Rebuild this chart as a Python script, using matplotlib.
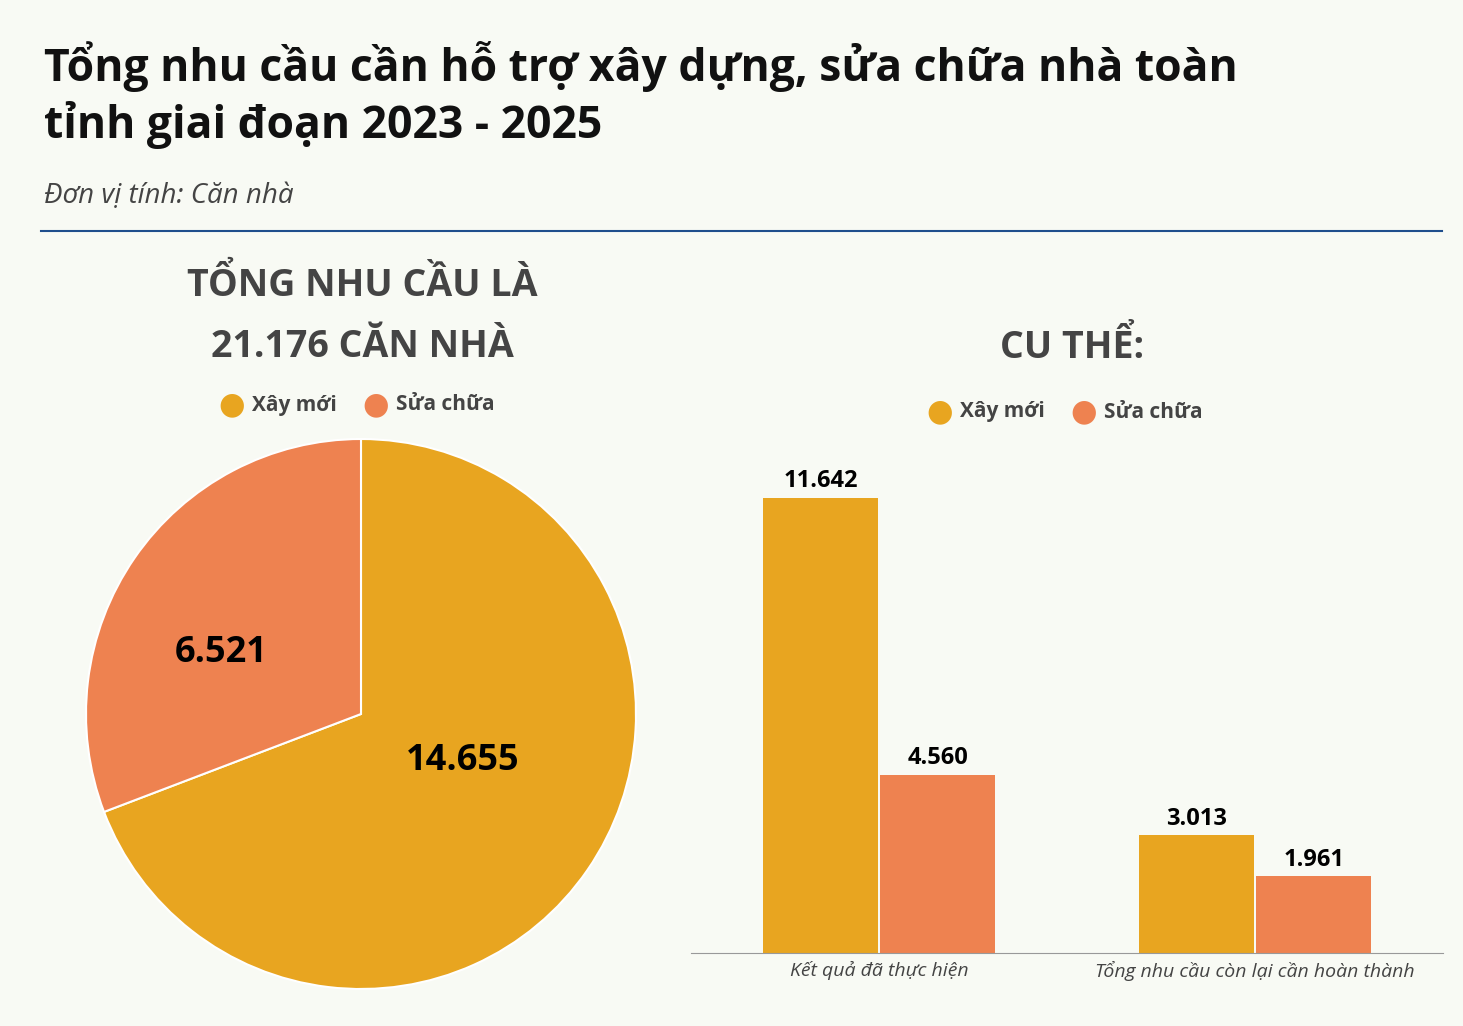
import matplotlib.pyplot as plt
import numpy as np

# data
pie_labels = ["Xây mới", "Sửa chữa"]
pie_values = [14655, 6521]
categories = ["Kết quả đã thực hiện", "Tổng nhu cầu còn lại cần hoàn thành"]
xay_moi = [11642, 3013]
sua_chua = [4560, 1961]

W, H = 1463, 1026
BG = "#f8faf4"
GOLD = "#e8a520"
ORANGE = "#ee8250"
FONT = "Open Sans"

fig = plt.figure(figsize=(W / 100, H / 100), dpi=100, facecolor=BG)


def fx(px):
    return px / W


def fy(py):
    return 1 - py / H


def fmt(v):
    return f"{v:,}".replace(",", ".")


# header
fig.text(fx(44), fy(66), "Tổng nhu cầu cần hỗ trợ xây dựng, sửa chữa nhà toàn",
         fontsize=32, fontweight="bold", family=FONT, color="#111", va="center")
fig.text(fx(44), fy(125), "tỉnh giai đoạn 2023 - 2025",
         fontsize=32, fontweight="bold", family=FONT, color="#111", va="center")
fig.text(fx(44), fy(196), "Đơn vị tính: Căn nhà", fontsize=20, style="italic",
         family=FONT, color="#444", va="center")
fig.add_artist(plt.Line2D([fx(41), fx(1442)], [fy(231), fy(231)], color="#1f4e8c", lw=1.5))

# pie section
fig.text(fx(362), fy(285), "TỔNG NHU CẦU LÀ", fontsize=27, fontweight="bold",
         family=FONT, color="#444", ha="center", va="center")
fig.text(fx(362), fy(347), "21.176 CĂN NHÀ", fontsize=27, fontweight="bold",
         family=FONT, color="#444", ha="center", va="center")

r = 275
ax1 = fig.add_axes([fx(361 - r), fy(714 + r), 2 * r / W, 2 * r / H])
ax1.pie(pie_values, colors=[GOLD, ORANGE], startangle=90, counterclock=False,
        wedgeprops=dict(edgecolor="white", linewidth=1.5), radius=1)
ax1.set_xlim(-1, 1)
ax1.set_ylim(-1, 1)
ax1.set_aspect("auto")
ax1.text(0.37, -0.17, fmt(pie_values[0]), fontsize=26, fontweight="bold",
         family=FONT, ha="center", va="center")
ax1.text(-0.51, 0.22, fmt(pie_values[1]), fontsize=26, fontweight="bold",
         family=FONT, ha="center", va="center")


def legend(x0, y0):
    fig.text(fx(x0), fy(y0), "●", fontsize=22, color=GOLD, ha="center", va="center")
    fig.text(fx(x0 + 20), fy(y0), pie_labels[0], fontsize=15, fontweight="bold",
             family=FONT, color="#444", va="center")
    fig.text(fx(x0 + 144), fy(y0), "●", fontsize=22, color=ORANGE, ha="center", va="center")
    fig.text(fx(x0 + 164), fy(y0), pie_labels[1], fontsize=15, fontweight="bold",
             family=FONT, color="#444", va="center")


legend(232, 405)

# bar section
fig.text(fx(1072), fy(347), "CU THỂ:", fontsize=27, fontweight="bold",
         family=FONT, color="#444", ha="center", va="center")
legend(940, 412)

ax2 = fig.add_axes([fx(691), fy(953), (1443 - 691) / W, (953 - 440) / H])
ax2.set_facecolor("none")
x = np.arange(len(categories))
bw = 0.306
b1 = ax2.bar(x - bw / 2 - 0.003, xay_moi, bw, color=GOLD)
b2 = ax2.bar(x + bw / 2 + 0.003, sua_chua, bw, color=ORANGE)
for bars in (b1, b2):
    for b in bars:
        ax2.text(b.get_x() + b.get_width() / 2, b.get_height() + 120, fmt(int(b.get_height())),
                 ha="center", va="bottom", fontsize=17, fontweight="bold", family=FONT)
ax2.set_xlim(-0.5, 1.5)
ax2.set_ylim(0, 13125)
ax2.set_yticks([])
ax2.set_xticks(x)
ax2.set_xticklabels(categories, fontsize=14, style="italic", family=FONT, color="#444")
ax2.tick_params(axis="x", length=0, pad=6)
for s in ("top", "right", "left"):
    ax2.spines[s].set_visible(False)
ax2.spines["bottom"].set_color("#999")

fig.savefig("out.png", dpi=100, facecolor=BG)
